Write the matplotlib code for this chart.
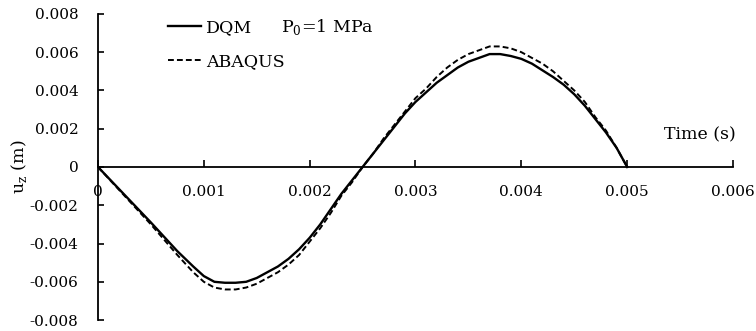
import matplotlib
matplotlib.use("Agg")
import matplotlib.pyplot as plt

plt.rcParams["font.family"] = ["DejaVu Serif"]

# Time samples (s) and displacement u_z (m)
t = [0, 0.00025, 0.0005, 0.00075, 0.0009, 0.001, 0.0011, 0.0012, 0.0013,
     0.0014, 0.0015, 0.0016, 0.0017, 0.0018, 0.0019, 0.002, 0.0021, 0.0022,
     0.0023, 0.0024, 0.0025, 0.0026, 0.0027, 0.0028, 0.0029, 0.003, 0.0031,
     0.0032, 0.0033, 0.0034, 0.0035, 0.0036, 0.0037, 0.0038, 0.0039, 0.004,
     0.0041, 0.0042, 0.0043, 0.0044, 0.0045, 0.0046, 0.0047, 0.0048, 0.0049,
     0.005]
dqm = [0, -0.00145, -0.0029, -0.0044, -0.0052, -0.0057, -0.0060, -0.00605,
       -0.00605, -0.0060, -0.0058, -0.0055, -0.0052, -0.0048, -0.0043,
       -0.0037, -0.0030, -0.0022, -0.0014, -0.0007, 0.0, 0.0007, 0.0014,
       0.0021, 0.0028, 0.0034, 0.0039, 0.0044, 0.0048, 0.0052, 0.0055,
       0.0057, 0.0059, 0.0059, 0.0058, 0.00565, 0.0054, 0.00505, 0.0047,
       0.0043, 0.0038, 0.0032, 0.0025, 0.0018, 0.0010, 0.0]
abaqus = [0, -0.0015, -0.0030, -0.0046, -0.0055, -0.0060, -0.0063, -0.0064,
          -0.0064, -0.0063, -0.0061, -0.0058, -0.0055, -0.0051, -0.0046,
          -0.0039, -0.0032, -0.0024, -0.0015, -0.0008, 0.0, 0.0007, 0.0015,
          0.0022, 0.0029, 0.0036, 0.0041, 0.0047, 0.0052, 0.0056, 0.0059,
          0.0061, 0.0063, 0.0063, 0.0062, 0.0060, 0.0057, 0.0054, 0.0050,
          0.0045, 0.0040, 0.0034, 0.0026, 0.0019, 0.0010, 0.0]

xticks = [0, 0.001, 0.002, 0.003, 0.004, 0.005, 0.006]
yticks = [-0.008, -0.006, -0.004, -0.002, 0, 0.002, 0.004, 0.006, 0.008]

fig = plt.figure(figsize=(7.56, 3.31), dpi=100)
ax = fig.add_axes([0.1296, 0.033, 0.840, 0.925])

ax.plot(t, dqm, color="black", lw=1.7, label="DQM")
ax.plot(t, abaqus, color="black", lw=1.4, ls=(0, (3, 1.6)), label="ABAQUS")

ax.set_xlim(0, 0.006)
ax.set_ylim(-0.008, 0.008)
ax.spines["top"].set_visible(False)
ax.spines["right"].set_visible(False)
ax.spines["bottom"].set_position(("data", 0))
for s in ("left", "bottom"):
    ax.spines[s].set_linewidth(1.3)

ax.set_xticks(xticks)
ax.set_xticklabels(["0" if v == 0 else f"{v:.3f}" for v in xticks])
ax.set_yticks(yticks)
ax.set_yticklabels(["0" if v == 0 else f"{v:.3f}" for v in yticks])
ax.tick_params(axis="x", direction="in", length=5, width=1.2, pad=13, labelsize=11)
ax.tick_params(axis="y", direction="in", length=4, width=1.2, pad=14, labelsize=11)

ax.set_ylabel(r"u$_\mathregular{z}$ (m)", fontsize=12.5)
ax.yaxis.set_label_coords(-0.108, 0.5)
ax.text(0.00535, 0.0017, "Time (s)", fontsize=12.5, ha="left", va="center")

leg = ax.legend(loc="upper left", bbox_to_anchor=(0.086, 1.035), frameon=False,
                fontsize=12.5, handlelength=1.9, handletextpad=0.3,
                labelspacing=1.02)
ax.text(0.00173, 0.0073, r"P$_\mathregular{0}$=1 MPa", fontsize=12.5,
        ha="left", va="center")

fig.savefig("out.png", dpi=100)
